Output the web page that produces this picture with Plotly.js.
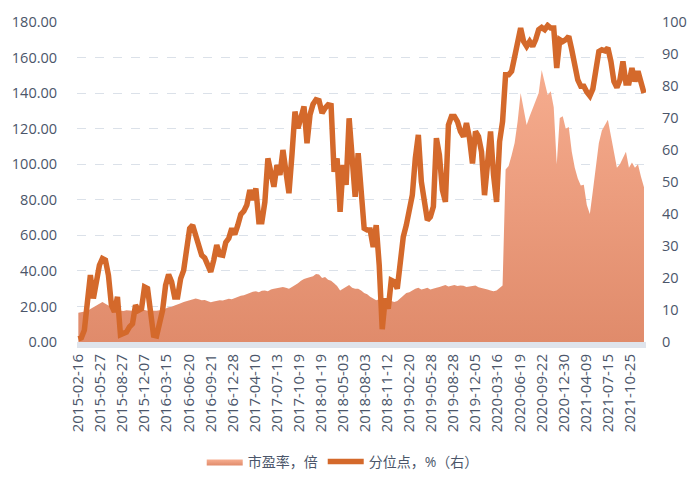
<!DOCTYPE html>
<html>
<head>
<meta charset="utf-8">
<script src="https://cdn.plot.ly/plotly-3.0.1.min.js"></script>
<style>
  html, body { margin: 0; padding: 0; background: #ffffff; }
  #chart { width: 693px; height: 480px; }
</style>
</head>
<body>
<div id="chart"></div>
<script>
// Category tick labels (trading dates), one every TICK_STEP trading days
const tickLabels = [
  "2015-02-16","2015-05-27","2015-08-27","2015-12-07","2016-03-15","2016-06-20",
  "2016-09-21","2016-12-28","2017-04-10","2017-07-13","2017-10-19","2018-01-19",
  "2018-05-03","2018-08-03","2018-11-12","2019-02-20","2019-05-28","2019-08-28",
  "2019-12-05","2020-03-16","2020-06-19","2020-09-22","2020-12-30","2021-04-09",
  "2021-07-15","2021-10-25"
];
const TICK_STEP = 66;   // trading days between labels
const SAMPLE_STEP = 9;  // trading days between sampled observations

// 市盈率，倍 (left axis), sampled every SAMPLE_STEP trading days
const pe = [
  16.5,16.8,17.0,17.5,18.5,19.5,20.5,21.5,22.5,21.5,
  20.5,19.0,18.0,17.8,17.6,17.5,17.8,17.5,17.6,17.8,
  17.4,17.8,18.0,17.6,17.5,17.8,17.6,17.9,18.2,18.8,
  19.6,19.8,20.5,21.0,21.8,22.5,23.0,23.5,24.2,24.5,
  24.0,23.5,23.6,22.8,22.3,22.8,23.2,23.5,23.3,23.8,
  24.3,24.0,24.8,25.5,26.0,26.3,27.0,27.8,28.2,28.5,
  28.0,28.8,29.0,28.5,29.5,30.0,30.3,30.8,31.0,30.5,
  30.0,31.0,32.0,33.0,34.5,35.5,36.0,36.5,37.0,38.2,
  38.0,36.0,36.5,35.0,34.5,33.0,31.5,29.0,30.0,31.0,
  32.0,30.5,30.0,30.0,29.0,27.5,26.8,25.5,24.5,23.5,
  24.0,21.0,23.0,23.5,23.0,22.5,23.0,24.5,26.0,27.5,
  28.0,29.0,30.0,30.5,29.5,30.0,30.5,29.5,29.8,30.5,
  31.0,31.5,32.0,31.2,31.5,32.0,31.5,31.8,31.6,31.0,
  31.2,31.5,31.8,30.8,30.5,29.8,29.5,29.0,28.5,29.0,
  30.5,31.8,97.0,99.0,105.0,112.0,124.0,140.0,131.0,122.0,
  127.0,131.0,135.0,140.0,153.0,145.0,139.0,141.0,132.0,100.0,
  126.0,127.0,120.0,121.0,107.0,98.0,92.0,88.0,88.5,77.0,
  72.0,85.0,98.0,112.0,119.0,122.0,125.0,116.0,107.0,98.0,
  100.0,104.0,107.0,98.0,101.0,98.0,100.0,93.0,87.0
];

// 分位点，% (right axis), same sampling
const pct = [
  1.0,1.3,3.7,12.5,20.9,13.6,18.8,24.0,26.1,25.6,
  20.9,11.5,9.4,14.1,2.3,2.6,3.1,4.7,5.7,11.5,
  9.9,10.4,17.2,16.7,7.8,2.1,1.9,5.2,9.9,17.7,
  21.1,18.8,14.1,14.1,19.8,22.4,29.2,35.5,36.5,32.9,
  30.1,27.1,26.3,23.5,21.9,25.6,30.3,27.3,27.1,31.1,
  32.4,35.5,33.6,36.5,39.9,40.9,42.8,47.5,44.4,48.0,
  37.6,37.6,43.8,57.4,52.2,48.5,55.3,52.2,60.0,53.2,
  46.5,58.5,72.0,66.8,71.0,73.6,62.1,71.0,74.3,75.7,
  75.4,71.5,73.1,74.1,73.9,53.2,57.4,40.7,55.3,49.1,
  69.9,57.4,45.4,59.0,43.8,35.5,35.0,35.0,29.7,36.5,
  24.0,4.0,13.6,10.4,19.3,18.8,16.7,25.1,32.9,36.5,
  42.3,45.9,57.4,64.7,50.1,44.9,38.1,39.1,42.3,63.7,
  58.5,47.5,43.8,67.8,70.5,70.5,68.9,65.8,64.2,68.4,
  63.7,55.8,65.8,64.2,59.5,45.9,54.8,65.8,52.2,43.8,
  62.6,68.9,83.5,83.5,84.6,89.2,91.9,98.1,93.9,92.4,
  93.9,92.4,94.5,97.6,98.3,97.6,98.9,98.1,98.1,85.6,
  94.5,93.9,94.5,95.5,91.3,86.6,81.9,79.9,79.9,78.1,
  76.9,79.1,85.1,90.8,91.3,91.0,91.9,87.7,81.4,79.5,
  81.9,87.7,80.9,80.9,85.6,81.4,84.6,80.9,77.8
];

const dayIdx = pe.map((_, i) => i * SAMPLE_STEP);
const tickVals = tickLabels.map((_, k) => k * TICK_STEP);

const textColor = '#4b566a';
const fontFam = '"Open Sans", "Noto Sans CJK SC", sans-serif';

const traces = [
  {
    type: 'scatter', mode: 'lines', name: '市盈率，倍',
    x: dayIdx, y: pe, yaxis: 'y',
    line: { width: 0, color: '#eea083' },
    fill: 'tozeroy',
    fillcolor: '#eea083',
    fillgradient: { type: 'vertical', start: 0, stop: 160,
      colorscale: [[0, '#e08b6b'], [1, '#f7ae90']] },
    hoverinfo: 'skip'
  },
  {
    type: 'scatter', mode: 'lines', name: '分位点，%（右）',
    x: dayIdx, y: pct, yaxis: 'y2',
    line: { width: 5.5, color: '#d4692b' },
    hoverinfo: 'skip'
  }
];

const layout = {
  width: 693, height: 480,
  margin: { l: 77, r: 47, t: 22, b: 138, autoexpand: false },
  paper_bgcolor: '#ffffff', plot_bgcolor: '#ffffff',
  font: { family: fontFam, color: textColor, size: 14 },
  showlegend: true,
  legend: {
    orientation: 'h', x: 0.467, xanchor: 'center', y: -0.375, yanchor: 'middle',
    font: { size: 14, color: textColor, family: fontFam },
    itemwidth: 36, traceorder: 'normal'
  },
  xaxis: {
    type: 'linear', automargin: false,
    range: [-4, 1698],
    tickmode: 'array', tickvals: tickVals, ticktext: tickLabels,
    tickangle: -90,
    tickfont: { size: 15, color: textColor, family: fontFam },
    showgrid: false, zeroline: false,
    showline: true, linecolor: '#dfe4ec', linewidth: 6,
    ticks: ''
  },
  yaxis: {
    automargin: false,
    range: [0, 180], tickmode: 'linear', tick0: 0, dtick: 20,
    tickformat: '.2f',
    tickfont: { size: 14.5, color: textColor, family: fontFam },
    showgrid: true, gridcolor: '#dbe1e9', griddash: 'dash', gridwidth: 1,
    zeroline: false, showline: false,
    ticks: 'outside', ticklen: 16, tickcolor: 'rgba(0,0,0,0)'
  },
  yaxis2: {
    automargin: false,
    overlaying: 'y', side: 'right',
    range: [0, 100], tickmode: 'linear', tick0: 0, dtick: 10,
    tickfont: { size: 14.5, color: textColor, family: fontFam },
    showgrid: false, zeroline: false, showline: false,
    ticks: 'outside', ticklen: 12, tickcolor: 'rgba(0,0,0,0)'
  }
};

Plotly.newPlot('chart', traces, layout, { displayModeBar: false, staticPlot: true });
</script>
</body>
</html>
